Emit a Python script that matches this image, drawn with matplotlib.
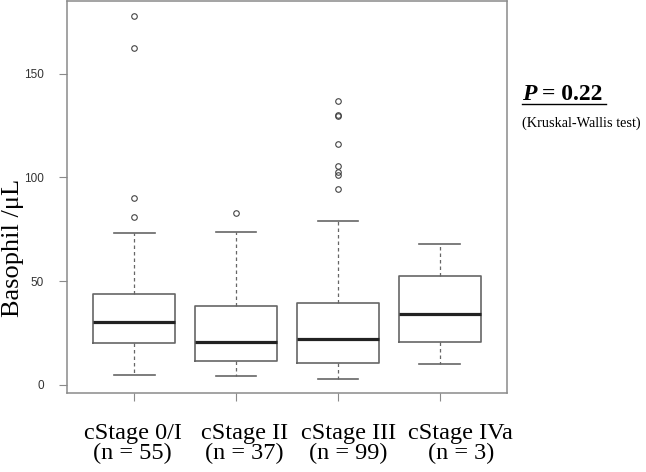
import matplotlib
matplotlib.use('Agg')
import matplotlib.pyplot as plt
from matplotlib.lines import Line2D
from matplotlib.transforms import ScaledTranslation

# values (Basophil /uL)
labels = ['cStage 0/I\n(n = 55)', 'cStage II\n(n = 37)', 'cStage III\n(n = 99)', 'cStage IVa\n(n = 3)']
whislo = [4.7, 4.3, 2.7, 9.8]
q1 = [20.0, 11.2, 10.4, 20.7]
med = [30.3, 20.4, 21.8, 34.0]
q3 = [43.9, 37.8, 39.4, 52.3]
whishi = [73.1, 73.7, 78.9, 68.0]
fliers = [
    [80.8, 90.1, 162.5, 177.8],
    [82.7],
    [94.2, 101.2, 102.4, 105.3, 116.2, 129.6, 130.0, 136.6],
    [],
]

stats = []
for i in range(len(labels)):
    stats.append(dict(whislo=whislo[i], q1=q1[i], med=med[i], q3=q3[i],
                      whishi=whishi[i], fliers=fliers[i], label=labels[i]))

fig = plt.figure(figsize=(6.46, 4.72), dpi=100)
ax = fig.add_axes([67 / 646, 79 / 472, 440 / 646, 392 / 472])

grey = '#666666'
ax.bxp(stats, widths=0.8, showfliers=True,
       boxprops=dict(color=grey, linewidth=1.2),
       whiskerprops=dict(color=grey, linewidth=0.9, linestyle=(0, (2.8, 2.4))),
       capprops=dict(color=grey, linewidth=1.2),
       medianprops=dict(color='#222222', linewidth=2.3),
       flierprops=dict(marker='o', markerfacecolor='none', markeredgecolor='#444444',
                       markersize=4, markeredgewidth=0.8))

ax.set_xlim(0.34, 4.66)
ax.set_ylim(-4, 185)
ax.set_yticks([0, 50, 100, 150])

for s in ax.spines.values():
    s.set_color('#8a8a8a')
    s.set_linewidth(1.1)

ax.tick_params(axis='y', length=5.5, color='#8a8a8a', labelsize=8.5, labelcolor='#333333', pad=11)
ax.tick_params(axis='x', length=6, color='#8a8a8a', pad=15.5)

# the stage labels sit a little right of their ticks in the original
shift_px = [-1.5, 8, 10.5, 21]
for t, dx in zip(ax.get_xticklabels(), shift_px):
    t.set_family('Liberation Serif')
    t.set_fontsize(17.5)
    t.set_linespacing(0.95)
    t.set_transform(t.get_transform() + ScaledTranslation(dx / 100, 0, fig.dpi_scale_trans))
for t in ax.get_yticklabels():
    t.set_family('Liberation Sans')

fig.text(13 / 646, 1 - 248 / 472, 'Basophil /\u03bcL', rotation=90, family='Liberation Serif',
         fontsize=19, ha='center', va='center')

fig.text(522 / 646, 1 - 95 / 472, 'P', family='Liberation Serif', fontsize=17,
         fontweight='bold', fontstyle='italic', ha='left', va='center')
fig.text(542 / 646, 1 - 95 / 472, '= 0.22', family='Liberation Serif', fontsize=17,
         fontweight='bold', ha='left', va='center')
fig.add_artist(Line2D([522 / 646, 606 / 646], [1 - 104 / 472, 1 - 104 / 472], color='black',
                      linewidth=1.0))
fig.text(522 / 646, 1 - 123 / 472, '(Kruskal-Wallis test)', family='Liberation Serif',
         fontsize=10.3, ha='left', va='center')

fig.savefig('out.png', dpi=100)
